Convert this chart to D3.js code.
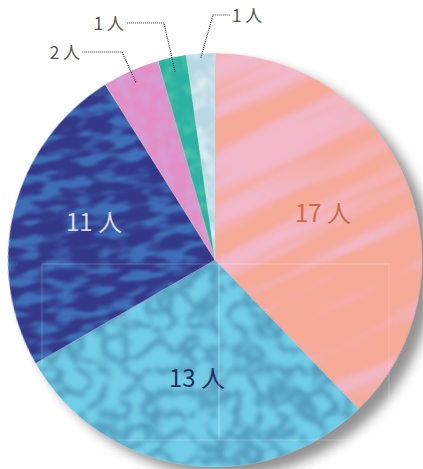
<!DOCTYPE html>
<html>
<head>
<meta charset="utf-8">
<script src="https://cdn.jsdelivr.net/npm/d3@7"></script>
<style>
  html,body{margin:0;padding:0;background:#fff;}
  svg{display:block;}
  text{font-family:"Noto Sans CJK JP","Noto Sans",sans-serif;}
</style>
</head>
<body>
<svg id="chart" width="423" height="469"></svg>
<script>
// data
const labels = ["17 人","13 人","11 人","2 人","1 人","1 人"];
const values = [17, 13, 11, 2, 1, 1];
const baseColors  = ["#f6aa98","#72cee8","#343889","#e38fc6","#2cb2a3","#b8d9e4"];
const overColors  = ["#f3b8c9","#5199bb","#3d6fb8","#d3a2d6","#4cc8aa","#e2eff3"];
const labelColors = ["#c9694b","#2a2c5c","#dcd8ec","#555555","#555555","#555555"];

const W = 423, H = 469;
const cx = 215, cy = 260, R = 207;

const svg = d3.select("#chart");
const defs = svg.append("defs");

// soft drop shadow
const sh = defs.append("filter").attr("id","shadow")
    .attr("x","-20%").attr("y","-20%").attr("width","140%").attr("height","140%");
sh.append("feGaussianBlur").attr("stdDeviation",6);

// texture filters, one per slice: noise -> colour with noise alpha -> atop slice
const tex = [
  {freq:"0.004 0.04", type:"fractalNoise", oct:3, seed:4, k:3.5,b:-1.5, blur:1.5},
  {freq:"0.045",      type:"turbulence",   oct:2, seed:7, k:-3.5,b:1.15, blur:2},
  {freq:"0.035 0.1",  type:"fractalNoise", oct:2, seed:2, k:5,  b:-2.2, blur:1},
  {freq:"0.07",       type:"fractalNoise", oct:2, seed:9, k:2.5,b:-1.0, blur:1},
  {freq:"0.08",       type:"fractalNoise", oct:2, seed:5, k:2.5,b:-1.1, blur:1},
  {freq:"0.06",       type:"fractalNoise", oct:2, seed:1, k:3,  b:-1.2, blur:1}
];
tex.forEach((t,i)=>{
  const c = d3.rgb(overColors[i]);
  const f = defs.append("filter").attr("id","tex"+i)
      .attr("color-interpolation-filters","sRGB")
      .attr("x","0").attr("y","0").attr("width","100%").attr("height","100%");
  f.append("feTurbulence").attr("type",t.type).attr("baseFrequency",t.freq)
      .attr("numOctaves",t.oct).attr("seed",t.seed).attr("result","n");
  f.append("feColorMatrix").attr("in","n").attr("type","matrix")
      .attr("values",`0 0 0 0 ${c.r/255} 0 0 0 0 ${c.g/255} 0 0 0 0 ${c.b/255} ${t.k} 0 0 0 ${t.b}`)
      .attr("result","c");
  f.append("feGaussianBlur").attr("in","c").attr("stdDeviation",t.blur).attr("result","cb");
  f.append("feComposite").attr("in","cb").attr("in2","SourceGraphic").attr("operator","atop");
});

const pie = d3.pie().sort(null).value(d=>d)(values);
const arc = d3.arc().innerRadius(0).outerRadius(R);

// shadow disc
svg.append("circle")
    .attr("cx",cx+11).attr("cy",cy+9).attr("r",R)
    .attr("fill","#858585").attr("opacity",0.9)
    .attr("filter","url(#shadow)");

const g = svg.append("g").attr("transform",`translate(${cx},${cy})`);

// slices (some drawn in a rotated frame so their streaks run diagonally)
const rot = [-25,0,-8,0,0,0];
g.selectAll("g.slice")
  .data(pie)
  .join("g")
    .attr("class","slice")
    .attr("transform",(d,i)=>`rotate(${rot[i]})`)
  .append("path")
    .attr("d",(d,i)=>{
      const o = -rot[i]*Math.PI/180;
      return arc({startAngle:d.startAngle+o, endAngle:d.endAngle+o});
    })
    .attr("fill",(d,i)=>baseColors[i])
    .attr("filter",(d,i)=>`url(#tex${i})`);

// thin separators
g.selectAll("path.sep")
  .data(pie)
  .join("path")
    .attr("class","sep")
    .attr("d",d=>arc(d))
    .attr("fill","none")
    .attr("stroke","rgba(255,255,255,0.25)")
    .attr("stroke-width",0.6);

// faint frame artefacts
svg.append("rect").attr("x",42).attr("y",264).attr("width",177).attr("height",176)
   .attr("fill","none").attr("stroke","rgba(255,255,255,0.28)").attr("stroke-width",0.8);
svg.append("rect").attr("x",219).attr("y",264).attr("width",170).attr("height",176)
   .attr("fill","none").attr("stroke","rgba(255,255,255,0.28)").attr("stroke-width",0.8);

// inside labels
const inner = [0,1,2];
const innerPos = [[108,-49],[-18,116],[-121,-40]];
g.selectAll("text.in")
  .data(inner)
  .join("text")
    .attr("class","in")
    .attr("x",i=>innerPos[i][0])
    .attr("y",i=>innerPos[i][1])
    .attr("text-anchor","middle")
    .attr("dominant-baseline","central")
    .attr("font-size",24)
    .attr("fill",i=>labelColors[i])
    .text(i=>labels[i]);

// outside labels with dotted leaders
const outer = [3,4,5];
const elbow = {3:[122,52,80,"end"], 4:[164,23,124,"end"], 5:[213,15,230,"start"]};
const startR = {3:0.94, 4:0.93, 5:0.98};
outer.forEach(i=>{
  const d = pie[i];
  const a = (d.startAngle+d.endAngle)/2;
  const sx = cx + Math.sin(a)*R*startR[i];
  const sy = cy - Math.cos(a)*R*startR[i];
  const [ex,ey,tx,anc] = elbow[i];
  svg.append("polyline")
    .attr("points",`${sx},${sy} ${ex},${ey} ${anc==="end"?tx+2:tx},${ey}`)
    .attr("fill","none")
    .attr("stroke","#333")
    .attr("stroke-width",1.2)
    .attr("stroke-dasharray","1 1");
  svg.append("text")
    .attr("x",anc==="end"?tx:tx+2)
    .attr("y",ey-1)
    .attr("text-anchor",anc)
    .attr("dominant-baseline","central")
    .attr("font-size",17)
    .attr("fill",labelColors[i])
    .text(labels[i]);
});
</script>
</body>
</html>
